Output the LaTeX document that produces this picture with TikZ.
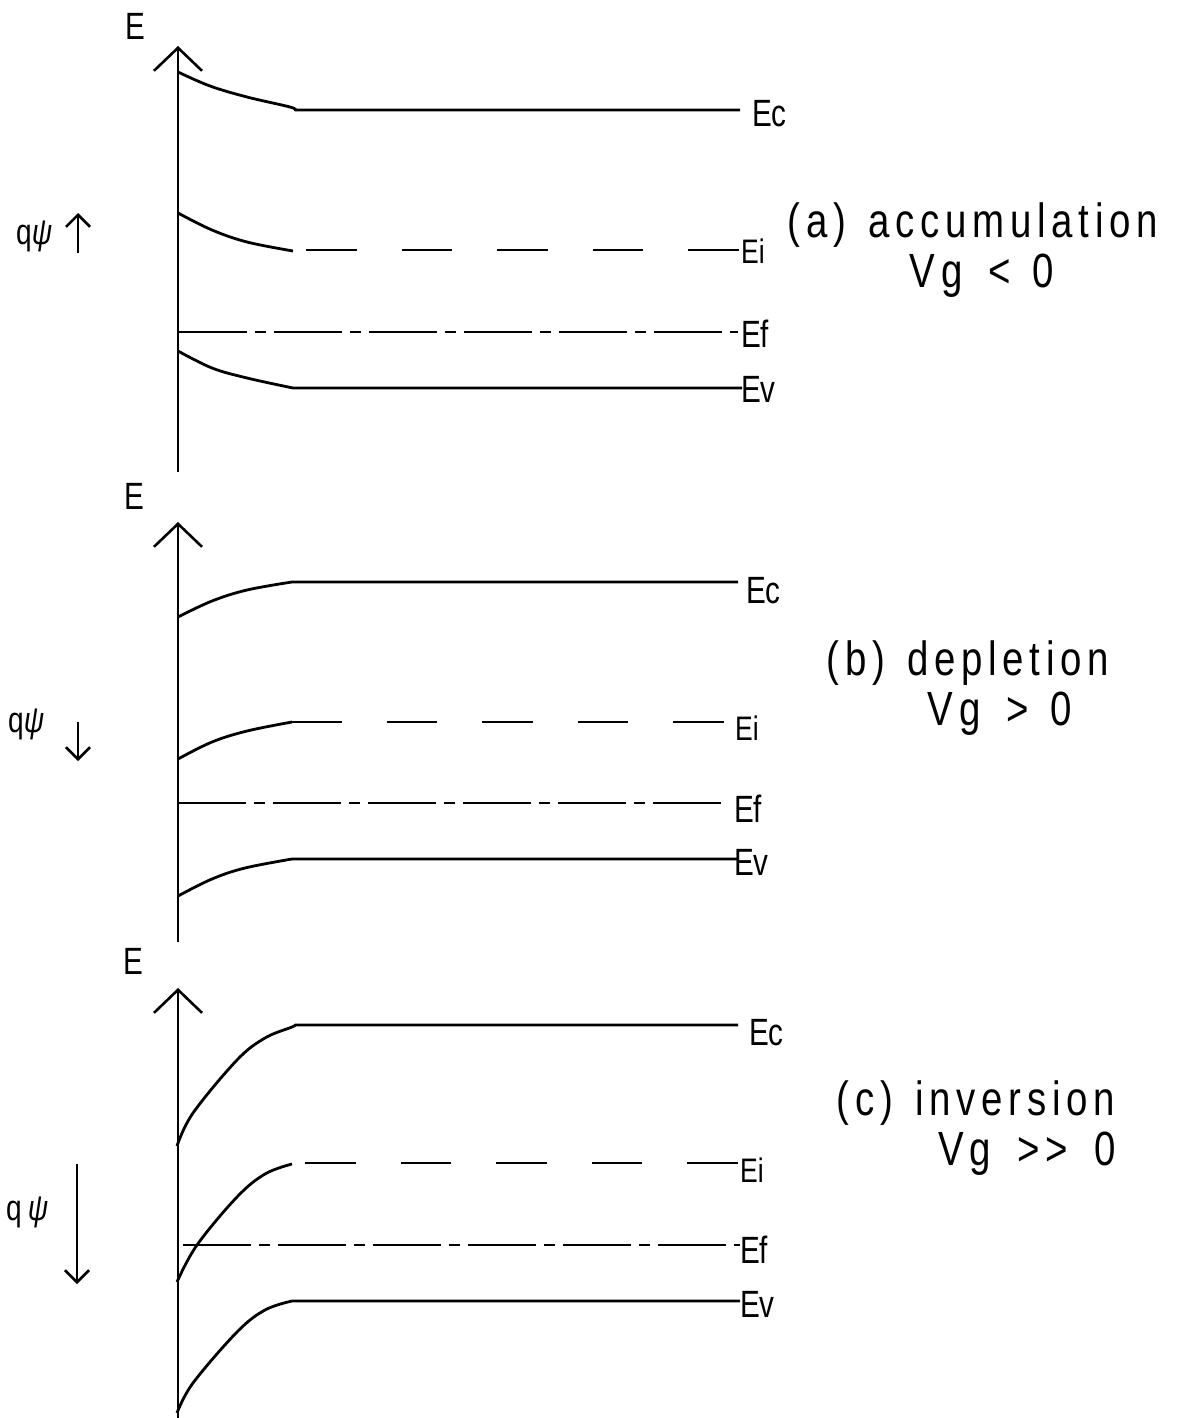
\documentclass[tikz,border=0pt]{standalone}
\usepackage{fontspec}
\setmainfont{Liberation Sans}[FakeStretch=0.78]
\newfontfamily\bigfont{Liberation Sans}[FakeStretch=0.8, LetterSpace=12]
\usetikzlibrary{arrows.meta}
\begin{document}
\begin{tikzpicture}[x=1pt,y=-1pt, line join=round,
  band/.style={line width=2.8pt},
  axisline/.style={line width=2.8pt, -{Straight Barb[length=23pt,width=48pt,line width=2.6pt]}},
  qarrow/.style={line width=2.6pt, -{Straight Barb[length=12pt,width=24pt,line width=2.6pt]}},
  eidash/.style={line width=2.8pt, dash pattern=on 50.5pt off 45pt},
  efdash/.style={line width=2.8pt, dash pattern=on 68pt off 8pt on 11pt off 8pt},
  lvl/.style={font=\fontsize{38}{38}\selectfont, anchor=base west, inner sep=0pt},
  lvlsmall/.style={font=\fontsize{34}{34}\selectfont, anchor=base west, inner sep=0pt},
  axlab/.style={font=\fontsize{38}{38}\selectfont, anchor=base west, inner sep=0pt},
  qlab/.style={font=\fontsize{36}{36}\selectfont, anchor=base west, inner sep=0pt},
  title/.style={font=\bigfont\fontsize{48}{48}\selectfont, anchor=base, inner sep=0pt}]
\useasboundingbox[fill=white] (0,0) rectangle (1183,1418);

% ================= panel (a) =================
\node[axlab] (aE) at (125,40) {E};
\coordinate (aAxB) at (178,472);
\coordinate (aAxT) at (178,46);
\draw[axisline] (aAxB) -- (aAxT);
% Ec
\coordinate (aEcEnd) at (740,110);
\draw[band] plot[smooth, tension=0.6] coordinates {(178,72) (210,86) (247,97) (290,107) (295,110)} -- (aEcEnd);
\node[lvl] (aEc) at (752,127) {Ec};
% Ei
\draw[band] plot[smooth, tension=0.6] coordinates {(178,213) (212,230) (247,242) (293,251)};
\coordinate (aEiA) at (306,250);
\coordinate (aEiB) at (740,250);
\draw[eidash] (aEiA) -- (aEiB);
\node[lvlsmall] (aEi) at (741,263) {Ei};
% Ef
\coordinate (aEfA) at (179,332);
\coordinate (aEfB) at (738,332);
\draw[efdash] (aEfA) -- (aEfB);
\node[lvl] (aEf) at (741,347) {Ef};
% Ev
\coordinate (aEvEnd) at (742,388);
\draw[band] plot[smooth, tension=0.6] coordinates {(178,351) (212,368) (247,378) (293,388)} -- (aEvEnd);
\node[lvl] (aEv) at (741,402) {Ev};
% q psi
\node[qlab] (aq) at (16,244) {q\textit{ψ}};
\coordinate (aqA) at (78,253);
\coordinate (aqB) at (78,213);
\draw[qarrow] (aqA) -- (aqB);
% title
\node[title] (aT1) at (973,237) {(a)\hspace{22pt}accumulation};
\node[title] (aT2) at (982,287) {Vg\hspace{26pt}<\hspace{22pt}0};

% ================= panel (b) =================
\node[axlab] (bE) at (124,509) {E};
\coordinate (bAxB) at (178,942);
\coordinate (bAxT) at (178,522);
\draw[axisline] (bAxB) -- (bAxT);
% Ec
\coordinate (bEcEnd) at (738,582);
\draw[band] plot[smooth, tension=0.6] coordinates {(178,617) (212,601) (247,590) (292,582)} -- (bEcEnd);
\node[lvl] (bEc) at (746,603) {Ec};
% Ei
\draw[band] plot[smooth, tension=0.6] coordinates {(178,759) (212,742) (247,731) (292,722)};
\coordinate (bEiA) at (291,722);
\coordinate (bEiB) at (724,722);
\draw[eidash] (bEiA) -- (bEiB);
\node[lvlsmall] (bEi) at (735,740) {Ei};
% Ef
\coordinate (bEfA) at (178,803);
\coordinate (bEfB) at (727,803);
\draw[efdash] (bEfA) -- (bEfB);
\node[lvl] (bEf) at (734,822) {Ef};
% Ev
\coordinate (bEvEnd) at (737,859);
\draw[band] plot[smooth, tension=0.6] coordinates {(178,896) (212,879) (245,868) (292,859)} -- (bEvEnd);
\node[lvl] (bEv) at (734,875) {Ev};
% q psi
\node[qlab] (bq) at (8,732) {q\textit{ψ}};
\coordinate (bqA) at (78,722);
\coordinate (bqB) at (78,761);
\draw[qarrow] (bqA) -- (bqB);
% title
\node[title] (bT1) at (968,675) {(b)\hspace{22pt}depletion};
\node[title] (bT2) at (1000,725) {Vg\hspace{26pt}>\hspace{22pt}0};

% ================= panel (c) =================
\node[axlab] (cE) at (123,974) {E};
\coordinate (cAxB) at (178,1418);
\coordinate (cAxT) at (178,988);
\draw[axisline] (cAxB) -- (cAxT);
% Ec
\coordinate (cEcEnd) at (738,1025);
\draw[band] plot[smooth, tension=0.6] coordinates {(177,1146) (193,1113) (237,1060) (265,1038) (292,1027) (295,1025)} -- (cEcEnd);
\node[lvl] (cEc) at (749,1045) {Ec};
% Ei
\draw[band] plot[smooth, tension=0.6] coordinates {(177,1282) (197,1245) (237,1197) (265,1174) (292,1164)};
\coordinate (cEiA) at (305,1163);
\coordinate (cEiB) at (740,1163);
\draw[eidash] (cEiA) -- (cEiB);
\node[lvlsmall] (cEi) at (740,1182) {Ei};
% Ef
\coordinate (cEfA) at (183,1245);
\coordinate (cEfB) at (740,1245);
\draw[efdash] (cEfA) -- (cEfB);
\node[lvl] (cEf) at (740,1263) {Ef};
% Ev
\coordinate (cEvEnd) at (740,1301);
\draw[band] plot[smooth, tension=0.6] coordinates {(177,1413) (193,1383) (237,1332) (265,1310) (292,1301)} -- (cEvEnd);
\node[lvl] (cEv) at (740,1317) {Ev};
% q psi
\node[qlab] (cq) at (6,1220) {q\hspace{6pt}\textit{ψ}};
\coordinate (cqA) at (77,1164);
\coordinate (cqB) at (77,1284);
\draw[qarrow] (cqA) -- (cqB);
% title
\node[title] (cT1) at (976,1115) {(c)\hspace{22pt}inversion};
\node[title] (cT2) at (1027,1165) {Vg\hspace{26pt}>\hspace{6pt}>\hspace{26pt}0};
\end{tikzpicture}
\end{document}
